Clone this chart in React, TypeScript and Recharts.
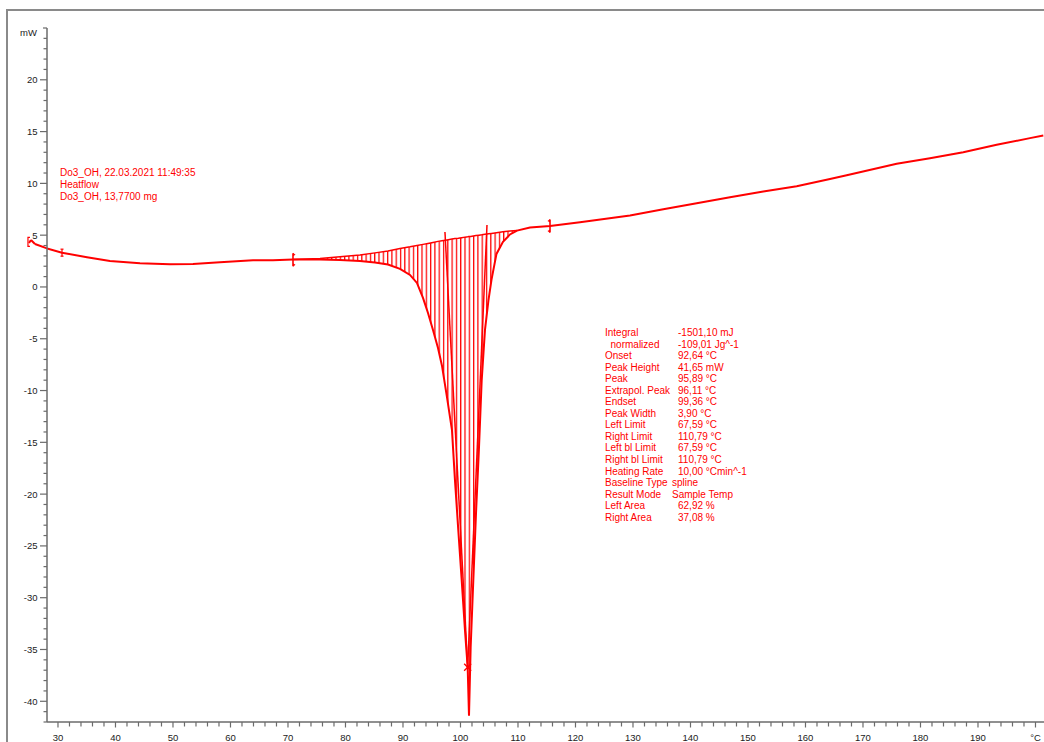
import React from 'react';
import { ComposedChart, Line, Area, XAxis, YAxis, ReferenceLine, ReferenceDot } from 'recharts';

// Temperature (°C) of each sample of the DSC curve
const temps = [
  28.09, 30.7, 35.04, 39.04, 44.26, 49.48, 53.48, 58.17, 63.91, 67.39,
  70.87, 75.57, 79.04, 82.52, 85.13, 87.39, 89.48, 91.22, 92.43, 93.48,
  94.35, 95.22, 96.09, 96.78, 97.65, 98.52, 99.04, 99.62, 100.21, 100.78,
  101.25, 101.48, 101.77, 102.23, 102.7, 103.22, 103.69, 104.26, 104.87, 105.39,
  106.26, 107.39, 108.61, 109.83, 112.09, 115.57, 120.78, 129.48, 135.27, 141.08,
  146.87, 152.66, 158.47, 164.26, 167.17, 175.86, 181.65, 187.44, 193.25, 199.04,
  201.36,
];
// Heat flow (mW)
const heatflow = [
  3.72, 3.31, 2.87, 2.51, 2.29, 2.19, 2.22, 2.39, 2.58, 2.58,
  2.64, 2.66, 2.61, 2.51, 2.37, 2.17, 1.74, 1.16, 0.39, -1.06,
  -2.51, -4.15, -5.89, -7.6, -10.63, -13.82, -18.65, -23.48, -28.31, -33.14,
  -36.71, -41.4, -34.78, -28.31, -21.84, -15.46, -8.99, -4.15, -1.26, 0.68,
  3.19, 4.35, 5.07, 5.44, 5.73, 5.89, 6.25, 6.9, 7.5, 8.09,
  8.67, 9.21, 9.72, 10.42, 10.78, 11.9, 12.43, 13.01, 13.72, 14.37,
  14.62,
];
// Spline baseline of the integrated peak (mW), null outside the limits
const baseline: (number | null)[] = [
  null, null, null, null, null, null, null, null, null, null,
  2.64, 2.75, 2.92, 3.09, 3.29, 3.48, 3.72, 3.88, 4.01, 4.11,
  4.2, 4.3, 4.4, 4.46, 4.54, 4.62, 4.67, 4.71, 4.76, 4.81,
  4.84, 4.86, 4.88, 4.92, 4.96, 5.0, 5.03, 5.08, 5.13, 5.17,
  5.24, 5.32, 5.41, 5.44, null, null, null, null, null, null,
  null, null, null, null, null, null, null, null, null, null,
  null,
];
// Start of the recording, left of the y axis
const tailTemps = [24.96, 25.3, 26.0, 28.09];
const tailHeatflow = [4.25, 4.54, 4.15, 3.72];
// Extrapolation tangents: [T start, v start, T end, v end]
const tangentLeft = [97.3, 5.31, 101.25, -36.71];
const tangentRight = [104.61, 5.99, 101.25, -36.71];
// Markers
const startMark = [24.78, 4.35];
const tickMark = [30.7, 3.31];
const leftLimitMark = [70.87, 2.62];
const rightLimitMark = [115.57, 5.89];
const peakMark = [101.25, -36.71];

const xTicks: number[] = [];
for (let t = 30; t <= 200; t += 2) xTicks.push(t);
const yTicks: number[] = [];
for (let v = -42; v <= 25; v += 1) yTicks.push(v);

const headerLines = ['Do3_OH, 22.03.2021 11:49:35', 'Heatflow', 'Do3_OH, 13,7700 mg'];
const resultLabels = [
  'Integral', '  normalized', 'Onset', 'Peak Height', 'Peak', 'Extrapol. Peak', 'Endset',
  'Peak Width', 'Left Limit', 'Right Limit', 'Left bl Limit', 'Right bl Limit',
  'Heating Rate', 'Baseline Type', 'Result Mode', 'Left Area', 'Right Area',
];
const resultValues = [
  '-1501,10 mJ', '-109,01 Jg^-1', '92,64 °C', '41,65 mW', '95,89 °C', '96,11 °C', '99,36 °C',
  '3,90 °C', '67,59 °C', '110,79 °C', '67,59 °C', '110,79 °C',
  '10,00 °Cmin^-1', 'spline', 'Sample Temp', '62,92 %', '37,08 %',
];

const RED = '#ff0000';
const AXIS = '#6b6b6b';
const FONT = '"Liberation Sans", Arial, sans-serif';

const rows = temps.map((T, i) => ({
  T,
  hf: heatflow[i],
  bl: baseline[i],
  band: baseline[i] == null ? null : [heatflow[i], baseline[i] as number],
}));

const YTick = (props: any) => {
  const { x, y, payload } = props;
  const v = payload.value as number;
  if (v === 25) {
    return (
      <g>
        <line x1={x - 4} x2={x} y1={y} y2={y} stroke={AXIS} strokeWidth={1.2} />
        <text x={x - 10} y={y + 8} textAnchor="end" fontSize={9.5} fontFamily={FONT} fill="#222">mW</text>
      </g>
    );
  }
  const major = v % 5 === 0;
  return (
    <g>
      <line x1={x - (major ? 7 : 3.5)} x2={x} y1={y} y2={y} stroke={AXIS} strokeWidth={1.2} />
      {major && (
        <text x={x - 9.5} y={y + 3.5} textAnchor="end" fontSize={9.5} fontFamily={FONT} fill="#222">{`${v}`}</text>
      )}
    </g>
  );
};

const XTick = (props: any) => {
  const { x, y, payload } = props;
  const v = payload.value as number;
  const major = v % 10 === 0;
  return (
    <g>
      <line x1={x} x2={x} y1={y} y2={y + (major ? 5.5 : 4.5)} stroke={AXIS} strokeWidth={1.2} />
      {major && (
        <text x={x} y={y + 19} textAnchor="middle" fontSize={9.5} fontFamily={FONT} fill="#222">
          {v === 200 ? '°C' : `${v}`}
        </text>
      )}
    </g>
  );
};

const LimitMark = (dir: number) => (props: any) => {
  const { cx, cy } = props;
  return (
    <g>
      <line x1={cx} x2={cx} y1={cy - 6.5} y2={cy + 6.5} stroke={RED} strokeWidth={1.6} />
      <path d={`M${cx},${cy - 7} L${cx + dir * 2.5},${cy - 5} L${cx},${cy - 3.5} Z`} fill={RED} />
      <path d={`M${cx},${cy + 7} L${cx + dir * 2.5},${cy + 5} L${cx},${cy + 3.5} Z`} fill={RED} />
    </g>
  );
};

const SmallTick = (props: any) => {
  const { cx, cy } = props;
  return (
    <g stroke={RED} strokeWidth={1.2}>
      <line x1={cx} x2={cx} y1={cy - 3.5} y2={cy + 3.5} />
      <line x1={cx - 1.5} x2={cx + 1.5} y1={cy - 3.5} y2={cy - 3.5} />
      <line x1={cx - 1.5} x2={cx + 1.5} y1={cy + 3.5} y2={cy + 3.5} />
    </g>
  );
};

const StartBracket = (props: any) => {
  const { cx, cy } = props;
  return (
    <path d={`M${cx + 2},${cy - 4.5} L${cx},${cy - 4.5} L${cx},${cy + 4.5} L${cx + 2},${cy + 4.5}`} stroke={RED} strokeWidth={1.2} fill="none" />
  );
};

const PeakCross = (props: any) => {
  const { cx, cy } = props;
  return (
    <g stroke={RED} strokeWidth={1.3}>
      <line x1={cx - 3.5} x2={cx + 3.5} y1={cy - 3.5} y2={cy + 3.5} />
      <line x1={cx - 3.5} x2={cx + 3.5} y1={cy + 3.5} y2={cy - 3.5} />
    </g>
  );
};

export default function App() {
  return (
    <div style={{ position: 'absolute', left: 0, top: 0, width: 1044, height: 742, background: '#fff', overflow: 'hidden' }}>
      <div
        style={{
          position: 'absolute', left: 6, top: 9, width: 1044, height: 742,
          borderLeft: '2px solid #8a8a8a', borderTop: '2px solid #8a8a8a',
        }}
      />
      <div style={{ position: 'absolute', left: 0, top: 0 }}>
        <ComposedChart width={1044} height={742} data={rows} margin={{ top: 28, right: 0, bottom: 0, left: 0 }}>
          <defs>
            <pattern id="hatch" patternUnits="userSpaceOnUse" width={4.3} height={8}>
              <line x1={0.6} y1={0} x2={0.6} y2={8} stroke={RED} strokeWidth={1.3} />
            </pattern>
          </defs>
          <XAxis
            type="number"
            dataKey="T"
            domain={[28.09, 201.48]}
            allowDataOverflow
            ticks={xTicks}
            interval={0}
            tickSize={0}
            tickMargin={0}
            height={20}
            tick={<XTick />}
            tickLine={false}
            axisLine={{ stroke: AXIS, strokeWidth: 1.5 }}
          />
          <YAxis
            type="number"
            domain={[-42, 25]}
            allowDataOverflow
            ticks={yTicks}
            interval={0}
            tickSize={0}
            tickMargin={0}
            width={47}
            tick={<YTick />}
            tickLine={false}
            axisLine={{ stroke: AXIS, strokeWidth: 1.5 }}
          />
          <Area
            type="linear"
            dataKey="band"
            stroke="none"
            fill="url(#hatch)"
            fillOpacity={1}
            isAnimationActive={false}
            activeDot={false}
          />
          <Line type="linear" dataKey="bl" stroke={RED} strokeWidth={1.5} dot={false} activeDot={false} isAnimationActive={false} />
          <Line type="linear" dataKey="hf" stroke={RED} strokeWidth={2} dot={false} activeDot={false} isAnimationActive={false} />
          {tailTemps.slice(0, -1).map((t, i) => (
            <ReferenceLine
              key={`tail-${i}`}
              segment={[{ x: t, y: tailHeatflow[i] }, { x: tailTemps[i + 1], y: tailHeatflow[i + 1] }]}
              stroke={RED}
              strokeWidth={2}
              ifOverflow="visible"
            />
          ))}
          <ReferenceLine
            segment={[{ x: tangentLeft[0], y: tangentLeft[1] }, { x: tangentLeft[2], y: tangentLeft[3] }]}
            stroke={RED}
            strokeWidth={1.5}
            ifOverflow="visible"
          />
          <ReferenceLine
            segment={[{ x: tangentRight[0], y: tangentRight[1] }, { x: tangentRight[2], y: tangentRight[3] }]}
            stroke={RED}
            strokeWidth={1.5}
            ifOverflow="visible"
          />
          <ReferenceDot x={startMark[0]} y={startMark[1]} ifOverflow="visible" shape={StartBracket} />
          <ReferenceDot x={tickMark[0]} y={tickMark[1]} ifOverflow="visible" shape={SmallTick} />
          <ReferenceDot x={leftLimitMark[0]} y={leftLimitMark[1]} ifOverflow="visible" shape={LimitMark(1)} />
          <ReferenceDot x={rightLimitMark[0]} y={rightLimitMark[1]} ifOverflow="visible" shape={LimitMark(-1)} />
          <ReferenceDot x={peakMark[0]} y={peakMark[1]} ifOverflow="visible" shape={PeakCross} />
        </ComposedChart>
      </div>
      <div style={{ position: 'absolute', left: 60, top: 167, fontFamily: FONT, fontSize: 10, lineHeight: '12px', color: RED, whiteSpace: 'pre' }}>
        {headerLines.map((l, i) => (
          <div key={i}>{l}</div>
        ))}
      </div>
      <div style={{ position: 'absolute', left: 605, top: 327, fontFamily: FONT, fontSize: 10, lineHeight: '11.56px', color: RED, whiteSpace: 'pre' }}>
        {resultLabels.map((l, i) => (
          <div key={i} style={{ position: 'relative', height: 11.56 }}>
            <span style={{ position: 'absolute', left: 0 }}>{l}</span>
            <span style={{ position: 'absolute', left: i === 13 || i === 14 ? 67 : 73 }}>{resultValues[i]}</span>
          </div>
        ))}
      </div>
    </div>
  );
}
